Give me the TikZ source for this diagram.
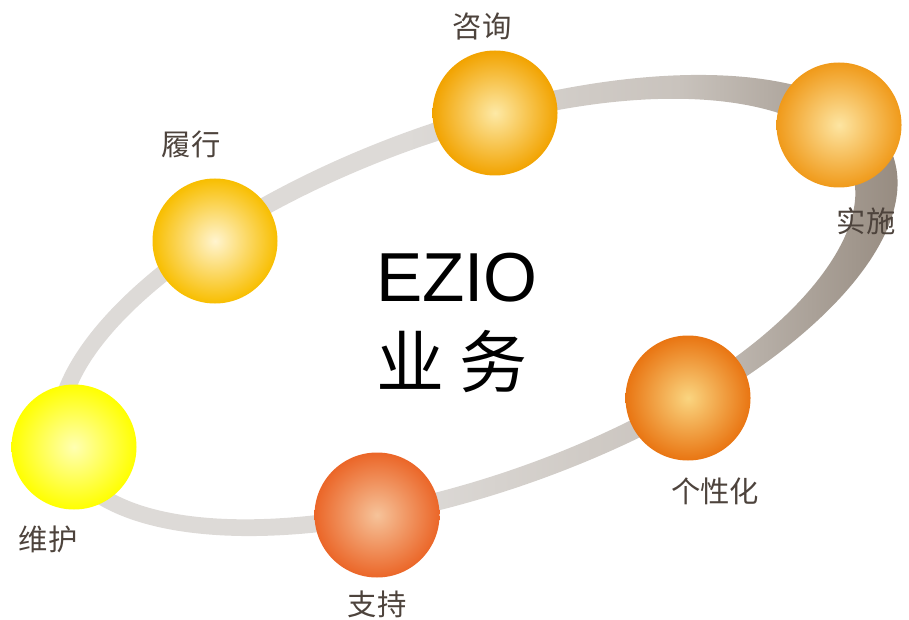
\documentclass[tikz,border=0pt]{standalone}
\usepackage{fontspec}
\setmainfont{Liberation Sans}
\newfontfamily\cjk{Noto Sans CJK SC}

\definecolor{ringlight}{HTML}{DDDAD7}
\definecolor{ringmid}{HTML}{C9C3BD}
\definecolor{ringdark}{HTML}{978C81}
\definecolor{labeltext}{HTML}{4D433C}
\pgfdeclarehorizontalshading{ringshade}{100bp}{color(0bp)=(ringlight); color(46bp)=(ringlight); color(62bp)=(ringmid); color(75bp)=(ringdark); color(100bp)=(ringdark)}

\begin{document}
\begin{tikzpicture}[x=0.75pt,y=-0.75pt,
		declare function={ringx(\p,\q,\s)=474+\p*cos(\s)*cos(19.7)-\q*sin(\s)*sin(19.7);
			ringy(\p,\q,\s)=305.5-\p*cos(\s)*sin(19.7)-\q*sin(\s)*cos(19.7);
			rw(\s)=18+26*exp(-(\s/45)*(\s/45));},
		bubble/.style={circle,minimum size=93.75pt,inner sep=0pt},
		tag/.style={text=labeltext,font=\cjk\fontsize{22}{26}\selectfont}]
	\useasboundingbox (0,0) rectangle (909,620);
	% ring
	\shade[shading=ringshade,even odd rule]
		plot[domain=-180:180,samples=120,smooth,variable=\t] ({ringx(445,186,\t)},{ringy(445,186,\t)}) -- cycle
		plot[domain=-180:180,samples=120,smooth,variable=\t] ({ringx(445-rw(\t),186-rw(\t),\t)},{ringy(445-rw(\t),186-rw(\t),\t)}) -- cycle;
	% circles
	\node[bubble,inner color=yellow!30!white,outer color=yellow] (weihu) at (74,447) {};
	\node[bubble,inner color={rgb,255:red,255;green,244;blue,207},outer color={rgb,255:red,248;green,190;blue,0}] (lvxing) at (215,241) {};
	\node[bubble,inner color={rgb,255:red,253;green,233;blue,166},outer color={rgb,255:red,242;green,163;blue,0}] (zixun) at (495,113) {};
	\node[bubble,inner color={rgb,255:red,253;green,229;blue,162},outer color={rgb,255:red,240;green,154;blue,26}] (shishi) at (839,125) {};
	\node[bubble,inner color={rgb,255:red,250;green,213;blue,128},outer color={rgb,255:red,233;green,117;blue,18}] (gexing) at (688,398) {};
	\node[bubble,inner color={rgb,255:red,246;green,195;blue,154},outer color={rgb,255:red,235;green,102;blue,40}] (zhichi) at (377,515) {};
	% labels
	\node[tag] (zixunlabel) at (482,26) {咨询};
	\node[tag] (shishilabel) at (866,221) {实施};
	\node[tag] (lvxinglabel) at (191,144) {履行};
	\node[tag] (weihulabel) at (48,539) {维护};
	\node[tag] (zhichilabel) at (377,604) {支持};
	\node[tag] (gexinglabel) at (715,491) {个性化};
	% centre
	\node[font=\fontsize{52}{60}\selectfont] (ezio) at (457,278) {EZIO};
	\node[font=\cjk\fontsize{51}{60}\selectfont] (yewu) at (452,362) {业 务};
\end{tikzpicture}
\end{document}
